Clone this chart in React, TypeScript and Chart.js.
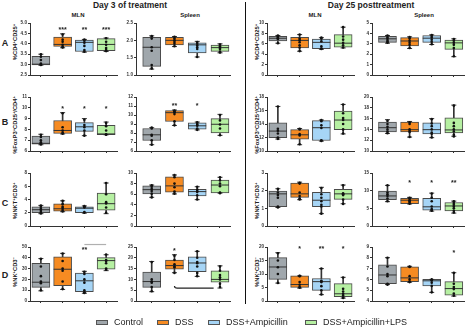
import React, { useEffect, useRef } from 'react';
import { Chart, registerables } from 'chart.js';
Chart.register(...registerables);

// ---------- data ----------
const GROUPS = ['Control', 'DSS', 'DSS+Ampicillin', 'DSS+Ampicillin+LPS'];
const FILLS = ['#a0a7ac', '#f68b22', '#a6d5f6', '#b6f0a2'];

// box stats per group: [min, q1, median, q3, max]
const A_MLN3_BOX = [[2.97, 2.98, 3.02, 3.4, 3.5], [3.81, 3.88, 3.97, 4.32, 4.48], [3.6, 3.63, 4.07, 4.18, 4.21], [3.63, 3.67, 3.97, 4.25, 4.28]];
const A_MLN3_PTS = [[3.5, 3.38, 3.22, 3.05, 3.0, 2.98], [4.45, 4.2, 4.1, 3.95, 3.85, 3.82], [4.2, 4.15, 4.05, 3.9, 3.7, 3.62], [4.27, 4.1, 3.95, 3.8, 3.7, 3.65]];
const A_MLN3_STARS = ['', '***', '**', '***'];

const A_SPL3_BOX = [[1.17, 1.25, 1.8, 2.09, 2.13], [1.82, 1.87, 2.0, 2.09, 2.11], [1.52, 1.64, 1.87, 1.93, 1.97], [1.64, 1.68, 1.79, 1.86, 1.9]];
const A_SPL3_PTS = [[2.12, 2.05, 1.8, 1.7, 1.29, 1.19], [2.1, 2.05, 2.0, 1.95, 1.9, 1.83], [1.95, 1.9, 1.85, 1.8, 1.75, 1.52], [1.88, 1.83, 1.78, 1.75, 1.68, 1.65]];

const A_MLN25_BOX = [[6.12, 6.54, 7.07, 7.45, 7.6], [4.57, 5.21, 6.65, 7.23, 7.77], [4.95, 5.05, 6.28, 6.91, 7.18], [5.2, 5.37, 6.12, 7.77, 9.2]];
const A_MLN25_PTS = [[7.6, 7.4, 7.2, 7.0, 6.9, 6.1], [7.8, 7.0, 6.7, 6.3, 5.7, 5.3, 4.6], [7.2, 7.0, 6.5, 5.5, 5.1, 5.0], [9.2, 7.4, 6.8, 6.2, 5.7, 5.3]];

const A_SPL25_BOX = [[3.06, 3.14, 3.48, 3.72, 3.8], [2.55, 2.79, 3.27, 3.59, 3.67], [2.93, 3.14, 3.54, 3.8, 3.86], [1.76, 2.47, 3.09, 3.35, 3.48]];
const A_SPL25_PTS = [[3.8, 3.6, 3.45, 3.3, 3.2, 3.1], [3.65, 3.5, 3.3, 3.1, 2.9, 2.6], [3.85, 3.75, 3.6, 3.4, 3.2, 2.95], [3.45, 3.3, 3.1, 2.9, 2.6, 1.8]];

const B_MLN3_BOX = [[6.58, 6.63, 6.71, 7.37, 7.55], [7.58, 7.62, 7.9, 8.82, 9.55], [7.42, 7.82, 8.24, 8.63, 9.0], [7.5, 7.52, 7.58, 8.37, 8.68]];
const B_MLN3_PTS = [[7.5, 7.3, 7.0, 6.8, 6.7, 6.6], [9.5, 8.2, 7.9, 7.7, 7.6], [8.9, 8.4, 8.2, 7.9, 7.42], [8.6, 8.3, 7.9, 7.55, 7.5]];
const B_MLN3_STARS = ['', '*', '*', '*'];

const B_SPL3_BOX = [[6.7, 7.17, 7.8, 8.5, 8.59], [8.84, 9.28, 10.26, 10.48, 10.55], [8.34, 8.43, 8.8, 9.13, 9.22], [7.74, 8.02, 8.97, 9.6, 10.07]];
const B_SPL3_PTS = [[8.6, 8.5, 7.8, 7.7, 7.2, 6.7], [10.5, 10.4, 10.3, 10.1, 9.3, 8.85], [9.2, 9.0, 8.9, 8.8, 8.5, 8.35], [10.0, 9.4, 8.95, 8.5, 7.75]];
const B_SPL3_STARS = ['', '**', '*', ''];

const B_MLN25_BOX = [[11.77, 11.98, 12.95, 14.17, 16.6], [10.93, 11.77, 12.4, 13.16, 13.33], [11.47, 11.56, 13.45, 14.5, 14.59], [12.53, 13.16, 14.59, 15.9, 16.9]];
const B_MLN25_PTS = [[16.6, 13.3, 13.0, 12.6, 12.0, 11.8], [13.3, 13.2, 12.5, 12.3, 11.0], [14.6, 14.4, 13.8, 13.4, 11.6, 11.5], [16.9, 15.6, 14.9, 14.6, 14.0, 13.2, 12.6]];

const B_SPL25_BOX = [[13.26, 13.53, 14.32, 15.37, 15.8], [12.58, 13.53, 13.95, 15.37, 15.47], [12.47, 13.16, 13.95, 15.2, 16.0], [12.74, 13.37, 13.9, 16.16, 18.5]];
const B_SPL25_PTS = [[15.6, 15.0, 14.5, 14.0, 13.6, 13.3], [15.3, 15.0, 14.0, 13.7, 13.5, 12.6], [15.9, 15.1, 14.6, 14.0, 13.4, 13.2, 12.5], [18.4, 15.2, 14.6, 14.0, 13.6, 13.0, 12.7]];

const C_MLN3_BOX = [[1.86, 2.03, 2.46, 2.9, 3.11], [2.16, 2.25, 2.6, 3.33, 3.8], [1.95, 2.03, 2.68, 2.9, 3.03], [1.86, 2.38, 3.37, 4.97, 6.49]];
const C_MLN3_PTS = [[3.1, 2.9, 2.6, 2.4, 2.1, 1.9], [3.8, 3.3, 2.9, 2.7, 2.4, 2.2], [3.0, 2.9, 2.8, 2.1, 2.0], [6.5, 4.8, 3.6, 3.4, 2.8, 2.0]];

const C_SPL3_BOX = [[5.41, 6.05, 6.86, 7.57, 7.73], [6.05, 6.38, 7.57, 9.3, 9.62], [4.97, 5.68, 6.49, 6.92, 7.41], [6.22, 6.25, 7.73, 8.65, 9.19]];
const C_SPL3_PTS = [[7.7, 7.4, 7.0, 6.6, 6.1, 5.4], [9.6, 9.2, 8.0, 7.3, 6.5, 6.1], [7.4, 6.9, 6.6, 6.4, 5.8, 5.0], [9.2, 8.6, 8.0, 7.5, 6.3, 6.2]];

const C_MLN25_BOX = [[1.05, 1.1, 1.82, 1.98, 2.11], [1.49, 1.62, 1.82, 2.43, 2.48], [0.7, 1.09, 1.46, 1.91, 2.19], [1.26, 1.51, 1.82, 2.08, 2.32]];
const C_MLN25_PTS = [[2.1, 1.9, 1.75, 1.6, 1.1, 1.05], [2.45, 2.4, 1.9, 1.7, 1.55, 1.5], [2.15, 1.8, 1.6, 1.4, 1.2, 1.1, 0.7], [2.3, 1.85, 1.8, 1.75, 1.5, 1.25]];

const C_SPL25_BOX = [[6.89, 7.46, 8.51, 9.89, 11.5], [6.24, 6.32, 7.3, 7.86, 8.1], [4.21, 4.46, 5.43, 7.86, 9.3], [3.65, 4.3, 5.67, 6.65, 7.05]];
const C_SPL25_PTS = [[11.5, 9.5, 9.0, 8.5, 7.8, 7.0], [8.0, 7.7, 7.3, 7.0, 6.6, 6.3], [9.2, 8.0, 7.0, 5.5, 4.8, 4.5, 4.3], [7.0, 6.5, 6.0, 5.5, 5.0, 4.3, 3.8]];
const C_SPL25_STARS = ['', '*', '*', '**'];

const D_MLN3_BOX = [[9.4, 12.6, 17.4, 34.8, 39.3], [10.7, 14.2, 29.4, 40.9, 44.1], [7.2, 8.6, 18.7, 25.9, 27.5], [28.1, 29.4, 37.4, 40.1, 42.8]];
const D_MLN3_PTS = [[39, 32, 23, 18, 16.5, 10], [44, 37, 30, 28, 18, 11], [27, 25, 20, 17, 10, 8, 7.5], [43, 38, 37, 35, 30, 29]];
const D_MLN3_STARS = ['', '', '**', ''];

const D_SPL3_BOX = [[4.3, 6.3, 9.0, 13.4, 18.3], [13.1, 14.7, 16.4, 19.0, 21.4], [11.4, 13.6, 17.6, 20.5, 23.0], [6.0, 8.7, 10.0, 14.0, 16.3]];
const D_SPL3_PTS = [[18, 10, 9, 8.5, 6.5, 4.5], [21, 19, 17, 16, 15.5, 13], [23, 20, 18, 17.5, 16, 13, 11.5], [16, 14, 12, 11, 10, 8, 6.5]];
const D_SPL3_STARS = ['', '*', '', ''];

const D_MLN25_BOX = [[6.63, 8.02, 12.6, 16.04, 17.9], [4.8, 5.03, 6.1, 9.3, 9.3], [2.35, 3.96, 7.17, 8.34, 12.0], [1.07, 1.6, 2.67, 6.42, 8.77]];
const D_MLN25_PTS = [[17.7, 15, 12.5, 10, 6.7], [9.3, 9.2, 7.0, 6.0, 5.2, 4.9], [12, 7.5, 7.2, 7.0, 5.5, 4.0, 2.4], [8.7, 4.5, 3.5, 2.7, 2.0, 1.3, 1.1]];
const D_MLN25_STARS = ['', '*', '**', '*'];

const D_SPL25_BOX = [[5.52, 5.6, 6.41, 7.34, 8.01], [5.74, 5.79, 6.14, 7.16, 7.21], [4.8, 5.39, 5.87, 6.0, 6.0], [4.45, 4.53, 5.15, 5.79, 6.62]];
const D_SPL25_PTS = [[8.0, 7.2, 6.5, 6.3, 5.6, 5.5], [7.2, 7.15, 6.3, 6.0, 5.8, 5.75], [6.0, 5.95, 5.9, 5.7, 5.4, 4.8], [6.6, 5.6, 5.3, 5.1, 4.7, 4.5]];
const D_SPL25_STARS = ['', '', '', '*'];

// ---------- layout ----------
const FONT = '"Liberation Sans", Arial, sans-serif';
const AXIS = '#333';
const LM = 16, RM = 2, TM = 7, BM = 4;
const COLS = [
  { left: 30, right: 125, xmin: -0.5, xmax: 3.5 },
  { left: 136, right: 238, xmin: -0.69, xmax: 3.44 },
  { left: 267, right: 362, xmin: -0.5, xmax: 3.5 },
  { left: 372, right: 472, xmin: -0.7, xmax: 3.46 },
];
const ROWS = [
  { top: 20, bottom: 81 },
  { top: 94, bottom: 157 },
  { top: 170, bottom: 232 },
  { top: 244, bottom: 307 },
];

type Line = { x1: number; x2: number; y: number; color: string; hook?: number };
type PanelDef = {
  row: number; col: number; box: number[][]; pts: number[][];
  min: number; max: number; step: number; dec: number;
  stars?: string[]; starY?: number; lines?: Line[];
};

const PANELS: PanelDef[] = [
  { row: 0, col: 0, box: A_MLN3_BOX, pts: A_MLN3_PTS, min: 2.5, max: 5, step: 0.5, dec: 1, stars: A_MLN3_STARS, starY: 4.75 },
  { row: 0, col: 1, box: A_SPL3_BOX, pts: A_SPL3_PTS, min: 1, max: 2.5, step: 0.5, dec: 1 },
  { row: 0, col: 2, box: A_MLN25_BOX, pts: A_MLN25_PTS, min: 0, max: 10, step: 2, dec: 0 },
  { row: 0, col: 3, box: A_SPL25_BOX, pts: A_SPL25_PTS, min: 0, max: 5, step: 1, dec: 0 },
  { row: 1, col: 0, box: B_MLN3_BOX, pts: B_MLN3_PTS, min: 6, max: 11, step: 1, dec: 0, stars: B_MLN3_STARS, starY: 10.0 },
  { row: 1, col: 1, box: B_SPL3_BOX, pts: B_SPL3_PTS, min: 6, max: 12, step: 1, dec: 0, stars: B_SPL3_STARS, starY: 11.2 },
  { row: 1, col: 2, box: B_MLN25_BOX, pts: B_MLN25_PTS, min: 10, max: 18, step: 2, dec: 0 },
  { row: 1, col: 3, box: B_SPL25_BOX, pts: B_SPL25_PTS, min: 10, max: 20, step: 2, dec: 0 },
  { row: 2, col: 0, box: C_MLN3_BOX, pts: C_MLN3_PTS, min: 0, max: 8, step: 2, dec: 0 },
  { row: 2, col: 1, box: C_SPL3_BOX, pts: C_SPL3_PTS, min: 0, max: 10, step: 2, dec: 0 },
  { row: 2, col: 2, box: C_MLN25_BOX, pts: C_MLN25_PTS, min: 0, max: 3, step: 1, dec: 0 },
  { row: 2, col: 3, box: C_SPL25_BOX, pts: C_SPL25_PTS, min: 0, max: 15, step: 5, dec: 0, stars: C_SPL25_STARS, starY: 12.6 },
  { row: 3, col: 0, box: D_MLN3_BOX, pts: D_MLN3_PTS, min: 0, max: 50, step: 10, dec: 0, stars: D_MLN3_STARS, starY: 48.7,
    lines: [{ x1: 2, x2: 3, y: 52.3, color: '#b0b0b0' }] },
  { row: 3, col: 1, box: D_SPL3_BOX, pts: D_SPL3_PTS, min: 0, max: 25, step: 5, dec: 0, stars: D_SPL3_STARS, starY: 23.8,
    lines: [{ x1: 1.0, x2: 2.72, y: 6.0, color: '#222', hook: 1.0 }] },
  { row: 3, col: 2, box: D_MLN25_BOX, pts: D_MLN25_PTS, min: 0, max: 20, step: 5, dec: 0, stars: D_MLN25_STARS, starY: 19.6 },
  { row: 3, col: 3, box: D_SPL25_BOX, pts: D_SPL25_PTS, min: 4, max: 9, step: 1, dec: 0, stars: D_SPL25_STARS, starY: 8.55 },
];

const annotPlugin = {
  id: 'annot',
  afterDatasetsDraw(chart: any, _args: any, opts: any) {
    const { ctx } = chart;
    const x = chart.scales.x, y = chart.scales.y;
    ctx.save();
    (opts.lines || []).forEach((l: Line) => {
      ctx.strokeStyle = l.color;
      ctx.lineWidth = 1.2;
      ctx.beginPath();
      const yy = y.getPixelForValue(l.y);
      if (l.hook) {
        ctx.moveTo(x.getPixelForValue(l.x1), y.getPixelForValue(l.y + l.hook));
        ctx.quadraticCurveTo(x.getPixelForValue(l.x1), yy, x.getPixelForValue(l.x1 + 0.12), yy);
      } else {
        ctx.moveTo(x.getPixelForValue(l.x1), yy);
      }
      ctx.lineTo(x.getPixelForValue(l.x2), yy);
      ctx.stroke();
    });
    const size = 7;
    ctx.font = `bold ${size}px ${FONT}`;
    ctx.fillStyle = '#222';
    ctx.textAlign = 'center';
    ctx.textBaseline = 'top';
    (opts.stars || []).forEach((s: string, i: number) => {
      if (s) ctx.fillText(s, x.getPixelForValue(i), y.getPixelForValue(opts.starY) - size * 0.3);
    });
    ctx.restore();
  },
};

function Panel({ p }: { p: PanelDef }) {
  const ref = useRef<HTMLCanvasElement | null>(null);
  const col = COLS[p.col], row = ROWS[p.row];
  const W = col.right - col.left + LM + RM;
  const H = row.bottom - row.top + TM + BM;
  useEffect(() => {
    const canvas = ref.current;
    if (!canvas) return;
    const idx = p.box.map((_, i) => i);
    const chart = new Chart(canvas, {
      type: 'bar',
      data: {
        datasets: [
          {
            type: 'bar',
            data: p.box.map((b, i) => ({ x: i, y: [b[0], b[4]] })),
            backgroundColor: '#333', barThickness: 1, grouped: false, order: 5, clip: false,
          } as any,
          {
            type: 'bar',
            data: p.box.map((b, i) => ({ x: i, y: [b[1], b[3]] })),
            backgroundColor: FILLS, borderColor: '#4a4a4a', borderWidth: 1, borderSkipped: false,
            barThickness: 18, grouped: false, order: 4, clip: false,
          } as any,
          {
            type: 'scatter',
            data: p.box.flatMap((b, i) => [{ x: i, y: b[0] }, { x: i, y: b[4] }]),
            pointStyle: 'line', pointRadius: 2.5, pointBorderColor: '#333', pointBorderWidth: 1,
            pointHoverRadius: 0, order: 3, clip: false,
          } as any,
          {
            type: 'scatter',
            data: p.box.map((b, i) => ({ x: i, y: b[2] })),
            pointStyle: 'line', pointRadius: 9, pointBorderColor: '#333', pointBorderWidth: 1,
            pointHoverRadius: 0, order: 2, clip: false,
          } as any,
          {
            type: 'scatter',
            data: p.pts.flatMap((arr, i) => arr.map((v) => ({ x: idx[i], y: v }))),
            pointStyle: 'circle', pointRadius: 1.3, pointBackgroundColor: '#111', pointBorderWidth: 0,
            pointHoverRadius: 0, order: 1, clip: false,
          } as any,
        ],
      },
      options: {
        responsive: false,
        animation: false,
        devicePixelRatio: 1,
        events: [],
        layout: { padding: { top: TM, right: RM, bottom: 0, left: 0 } },
        plugins: {
          legend: { display: false },
          tooltip: { enabled: false },
          annot: { stars: p.stars, starY: p.starY, lines: p.lines },
        } as any,
        scales: {
          x: {
            type: 'linear', min: col.xmin, max: col.xmax, offset: false,
            afterBuildTicks: (s: any) => { s.ticks = [0, 1, 2, 3].map((v) => ({ value: v })); },
            afterFit: (s: any) => { s.height = BM; },
            ticks: { callback: () => '', autoSkip: false, maxRotation: 0, padding: 0 },
            grid: { offset: false, drawOnChartArea: false, drawTicks: true, tickLength: 2, color: AXIS, lineWidth: 1 },
            border: { display: true, color: AXIS, width: 1 },
          },
          y: {
            type: 'linear', min: p.min, max: p.max, beginAtZero: false,
            afterFit: (s: any) => { s.width = LM; },
            ticks: {
              stepSize: p.step,
              callback: (v: any) => Number(v).toFixed(p.dec),
              font: { size: 4.6, family: FONT, weight: 'bold' },
              color: '#333', padding: 1,
            },
            grid: { drawOnChartArea: false, drawTicks: true, tickLength: 2, color: AXIS, lineWidth: 1 },
            border: { display: true, color: AXIS, width: 1 },
          },
        } as any,
      },
      plugins: [annotPlugin],
    } as any);
    return () => chart.destroy();
  }, []);
  return (
    <canvas
      ref={ref}
      width={W}
      height={H}
      style={{ position: 'absolute', left: col.left - LM, top: row.top - TM, width: W, height: H }}
    />
  );
}

function T({ x, y, size, bold = true, rotate = false, children }: any) {
  return (
    <div
      style={{
        position: 'absolute', left: x, top: y, whiteSpace: 'nowrap', lineHeight: 1,
        fontFamily: FONT, fontSize: size, fontWeight: bold ? 'bold' : 'normal', color: '#222',
        transform: `translate(-50%, -50%)${rotate ? ' rotate(-90deg)' : ''}`,
      }}
    >
      {children}
    </div>
  );
}

const sup = { fontSize: '0.7em', verticalAlign: '0.45em' };
const Y_TITLES = [
  <span>%CD4<span style={sup}>+</span>CD25<span style={sup}>+</span></span>,
  <span>%FoxP3<span style={sup}>+</span>CD25<span style={sup}>+</span>/CD4<span style={sup}>+</span></span>,
  <span>%iNKT<span style={sup}>+</span>/CD3<span style={sup}>+</span></span>,
  <span>%NK<span style={sup}>+</span>CD3<span style={sup}>−</span></span>,
];
const ROW_LETTERS = ['A', 'B', 'C', 'D'];
const LETTER_Y = [43, 122, 203, 275];
const TITLE_Y = [42, 125, 201, 272];
const LEGEND_SWATCH_X = [96, 157, 208, 305];

export default function App() {
  return (
    <div style={{ position: 'absolute', left: 0, top: 0, width: 474, height: 328, background: '#fff', overflow: 'hidden' }}>
      <T x={130} y={5} size={8.5}>Day 3 of treatment</T>
      <T x={371} y={5} size={8.5}>Day 25 posttreatment</T>
      <T x={78} y={15} size={6}>MLN</T>
      <T x={190} y={15} size={6}>Spleen</T>
      <T x={315} y={15} size={6}>MLN</T>
      <T x={424} y={15} size={6}>Spleen</T>
      {ROW_LETTERS.map((l, i) => (
        <T key={l} x={5} y={LETTER_Y[i]} size={9}>{l}</T>
      ))}
      {Y_TITLES.map((t, i) => (
        <React.Fragment key={i}>
          <T x={15} y={TITLE_Y[i]} size={5.8} rotate>{t}</T>
          <T x={257} y={TITLE_Y[i]} size={5.8} rotate>{t}</T>
        </React.Fragment>
      ))}
      <div style={{ position: 'absolute', left: 244.5, top: 2, width: 1.4, height: 302, background: '#111' }} />
      {PANELS.map((p, i) => (
        <Panel key={i} p={p} />
      ))}
      {GROUPS.map((g, i) => (
        <React.Fragment key={g}>
          <div style={{ position: 'absolute', left: LEGEND_SWATCH_X[i], top: 319.5, width: 12, height: 5, background: FILLS[i], border: '0.8px solid #555', boxSizing: 'border-box' }} />
          <div style={{ position: 'absolute', left: LEGEND_SWATCH_X[i] + 18, top: 322, transform: 'translateY(-50%)', fontFamily: FONT, fontSize: 9, lineHeight: 1, color: '#222', whiteSpace: 'nowrap' }}>{g}</div>
        </React.Fragment>
      ))}
    </div>
  );
}
